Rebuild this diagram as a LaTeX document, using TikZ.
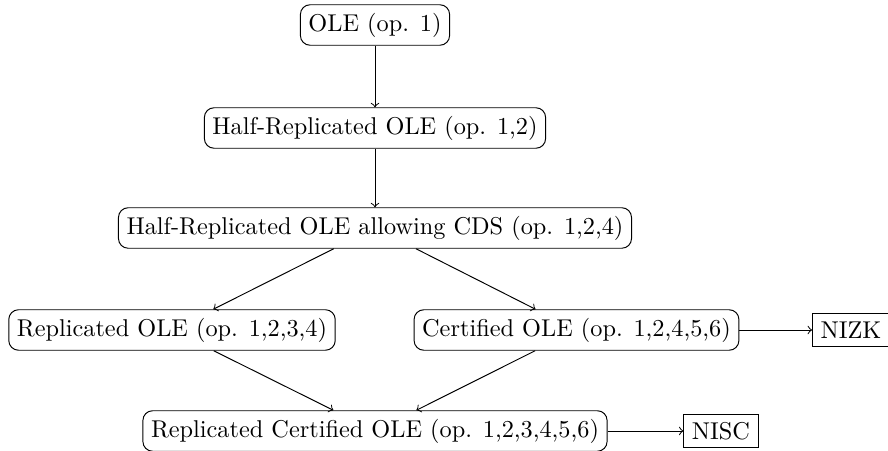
\documentclass[tikz,border=0pt]{standalone}
\begin{document}
\begin{tikzpicture}[x=0.4115pt, y=-0.4115pt,
  proto/.style={draw, rounded corners=4pt},
  prim/.style={draw}]
\useasboundingbox (0,0) rectangle (888,451);
\node[proto] (ole)  at (375,25)  {OLE (op. 1)};
\node[proto] (half) at (375,128) {Half-Replicated OLE (op. 1,2)};
\node[proto] (cds)  at (375,228) {Half-Replicated OLE allowing CDS (op. 1,2,4)};
\node[proto] (rep)  at (172,330) {Replicated OLE (op. 1,2,3,4)};
\node[proto] (cert) at (576.5,330) {Certified OLE (op. 1,2,4,5,6)};
\node[prim]  (nizk) at (851,330) {NIZK};
\node[proto] (rc)   at (375,431) {Replicated Certified OLE (op. 1,2,3,4,5,6)};
\node[prim]  (nisc) at (721,431) {NISC};
\draw[->] (ole) -- (half);
\draw[->] (half) -- (cds);
\draw[->] (cds) -- (rep);
\draw[->] (cds) -- (cert);
\draw[->] (rep) -- (rc);
\draw[->] (cert) -- (rc);
\draw[->] (cert) -- (nizk);
\draw[->] (rc) -- (nisc);
\end{tikzpicture}
\end{document}
